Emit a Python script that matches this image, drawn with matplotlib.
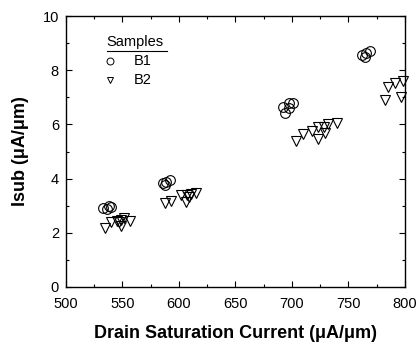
import matplotlib
matplotlib.use("Agg")
import matplotlib.pyplot as plt
from matplotlib.ticker import MultipleLocator
from matplotlib.lines import Line2D

plt.rcParams['font.family'] = ['Liberation Sans', 'DejaVu Sans']

b1_x = [533, 536, 538, 540, 586, 588, 589, 592, 692, 694, 697, 697, 701, 762, 765, 766, 769]
b1_y = [2.92, 2.88, 2.98, 2.95, 3.83, 3.76, 3.89, 3.95, 6.65, 6.43, 6.78, 6.59, 6.80, 8.56, 8.50, 8.65, 8.72]

b2_x = [535, 540, 545, 547, 549, 549, 551, 557,
        588, 593, 602, 606, 607, 609, 611, 615,
        704, 710, 718, 723, 723, 728, 729, 732, 740,
        782, 785, 791, 797, 798]
b2_y = [2.18, 2.39, 2.45, 2.40, 2.47, 2.25, 2.53, 2.45,
        3.09, 3.19, 3.39, 3.15, 3.39, 3.31, 3.42, 3.46,
        5.40, 5.63, 5.77, 5.89, 5.46, 5.89, 5.67, 6.00, 6.04,
        6.90, 7.37, 7.54, 7.02, 7.60]

xticks = [500, 550, 600, 650, 700, 750, 800]
yticks = [0, 2, 4, 6, 8, 10]

fig = plt.figure(figsize=(4.2, 3.5), dpi=100)
ax = fig.add_axes([0.157, 0.18, 0.807, 0.774])

ax.plot(b1_x, b1_y, linestyle='none', marker='o', markersize=7,
        markerfacecolor='none', markeredgecolor='black', markeredgewidth=0.8, clip_on=False)
ax.plot(b2_x, b2_y, linestyle='none', marker='v', markersize=7,
        markerfacecolor='none', markeredgecolor='black', markeredgewidth=0.8, clip_on=False)

ax.set_xlim(500, 800)
ax.set_ylim(0, 10)
ax.set_xticks(xticks)
ax.set_yticks(yticks)
ax.xaxis.set_minor_locator(MultipleLocator(25))
ax.yaxis.set_minor_locator(MultipleLocator(1))
ax.tick_params(which='both', direction='in', top=True, right=True, labelsize=10.5, width=0.8)
ax.tick_params(which='major', length=4)
ax.tick_params(which='minor', length=2)
ax.tick_params(axis='x', which='major', pad=7)
ax.tick_params(axis='y', which='major', pad=5)
for s in ax.spines.values():
    s.set_linewidth(1.0)

ax.set_xlabel('Drain Saturation Current (μA/μm)', fontsize=13, fontweight='bold', labelpad=10)
ax.set_ylabel('Isub (μA/μm)', fontsize=13, fontweight='bold', labelpad=10)

# legend
ax.text(0.12, 0.905, 'Samples', transform=ax.transAxes, fontsize=10.5, va='center', ha='left')
ax.add_line(Line2D([0.12, 0.297], [0.872, 0.872], transform=ax.transAxes, color='black', lw=0.8))
ax.plot([0.13], [0.835], transform=ax.transAxes, marker='o', markersize=5,
        markerfacecolor='none', markeredgecolor='black', markeredgewidth=0.7, linestyle='none')
ax.plot([0.13], [0.765], transform=ax.transAxes, marker='v', markersize=5,
        markerfacecolor='none', markeredgecolor='black', markeredgewidth=0.7, linestyle='none')
ax.text(0.2, 0.835, 'B1', transform=ax.transAxes, fontsize=10.5, va='center', ha='left')
ax.text(0.2, 0.765, 'B2', transform=ax.transAxes, fontsize=10.5, va='center', ha='left')

fig.savefig('out.png', dpi=100)
